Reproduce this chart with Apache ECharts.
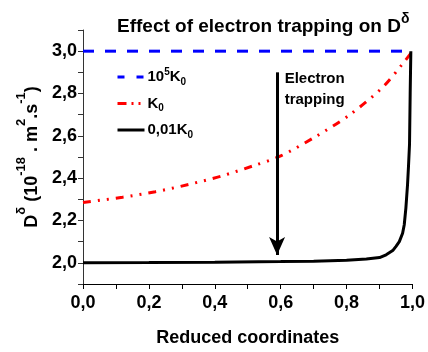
<!DOCTYPE html>
<html>
<head>
<meta charset="utf-8">
<script src="https://cdn.jsdelivr.net/npm/echarts@6/dist/echarts.min.js"></script>
<style>html,body{margin:0;padding:0;background:#fff;}#c{width:428px;height:352px;}</style>
</head>
<body>
<div id="c"></div>
<script>
// Data
const seriesNames = ['1e5K0', 'K0', '0.01K0'];
const xHigh = [0, 1];
const yHigh = [3.0, 3.0];
const xK0 = [0, 0.12, 0.22, 0.32, 0.42, 0.52, 0.60, 0.71, 0.81, 0.91, 0.97, 1.0];
const yK0 = [2.285, 2.31, 2.336, 2.37, 2.41, 2.46, 2.505, 2.60, 2.70, 2.83, 2.94, 3.0];
const xLow = [0, 0.2, 0.4, 0.6, 0.7, 0.8, 0.86, 0.9, 0.92, 0.94, 0.95, 0.96, 0.97, 0.975, 0.98, 0.985, 0.988, 0.991, 0.993, 0.995];
const yLow = [2.0, 2.001, 2.003, 2.006, 2.008, 2.012, 2.018, 2.025, 2.038, 2.058, 2.078, 2.1, 2.14, 2.18, 2.26, 2.37, 2.46, 2.56, 2.8, 3.0];
const arrowX = 0.589, arrowTop = 2.90, arrowTip = 2.037;
const noteX = 0.612, noteY = 2.82;

const FONT = '"Liberation Sans", Arial, sans-serif';
const zip = (xs, ys) => xs.map((x, i) => [x, ys[i]]);
const fmt = v => {
  const r = Math.round(v * 10);
  return r % 2 === 0 ? (r / 10).toFixed(1).replace('.', ',') : '';
};

const chart = echarts.init(document.getElementById('c'), null, {renderer: 'canvas'});
chart.setOption({
  animation: false,
  backgroundColor: '#fff',
  title: {
    text: '{t|Effect of electron trapping on D}{s|δ}',
    left: 112, top: 7,
    textStyle: {
      rich: {
        t: {fontFamily: FONT, fontWeight: 'bold', fontSize: 19, color: '#000', lineHeight: 24, verticalAlign: 'bottom'},
        s: {fontFamily: FONT, fontWeight: 'bold', fontSize: 14, color: '#000', verticalAlign: 'top', lineHeight: 14}
      }
    }
  },
  legend: {
    orient: 'vertical', left: 111, top: 62,
    itemWidth: 27, itemHeight: 14, itemGap: 9,
    itemStyle: {opacity: 0},
    data: [
      {name: seriesNames[0], lineStyle: {type: [7, 12], width: 3}},
      {name: seriesNames[1], lineStyle: {type: [9, 5, 2, 5, 2, 5], width: 3}},
      {name: seriesNames[2], lineStyle: {type: 'solid', width: 3}}
    ],
    formatter: n => n === '1e5K0' ? '{a|10}{p|5}{a|K}{b|0}' : (n === 'K0' ? '{a|K}{b|0}' : '{a|0,01K}{b|0}'),
    textStyle: {
      padding: [0, 0, 0, -2],
      rich: {
        a: {fontFamily: FONT, fontWeight: 'bold', fontSize: 15, color: '#000', height: 20, verticalAlign: 'middle'},
        p: {fontFamily: FONT, fontWeight: 'bold', fontSize: 10, color: '#000', verticalAlign: 'top'},
        b: {fontFamily: FONT, fontWeight: 'bold', fontSize: 10, color: '#000', verticalAlign: 'bottom'}
      }
    }
  },
  grid: {left: 83, right: 12, top: 30, bottom: 65, containLabel: false},
  xAxis: {
    type: 'value', min: 0, max: 1, interval: 0.1,
    name: 'Reduced coordinates', nameLocation: 'middle', nameGap: 45,
    nameTextStyle: {fontFamily: FONT, fontWeight: 'bold', fontSize: 18, color: '#000'},
    axisLine: {show: true, onZero: false, lineStyle: {color: '#000', width: 1}},
    axisTick: {show: true, inside: false, length: 5, lineStyle: {color: '#000'}},
    axisLabel: {formatter: fmt, margin: 10, fontFamily: FONT, fontWeight: 'bold', fontSize: 18, color: '#000'},
    splitLine: {show: false}
  },
  yAxis: {
    type: 'value', min: 1.9, max: 3.1, interval: 0.1,
    name: '{m|D}{s|δ}{m| (10}{s|-18}{m| . m}{s|2}{m|.s}{s|-1}{m|)}',
    nameLocation: 'middle', nameRotate: 90, nameGap: 42,
    nameTextStyle: {
      rich: {
        m: {fontFamily: FONT, fontWeight: 'bold', fontSize: 18, color: '#000', lineHeight: 26, verticalAlign: 'bottom'},
        s: {fontFamily: FONT, fontWeight: 'bold', fontSize: 13, color: '#000', verticalAlign: 'top', lineHeight: 13}
      }
    },
    axisLine: {show: true, onZero: false, lineStyle: {color: '#333', width: 1}},
    axisTick: {show: true, inside: false, length: 5, lineStyle: {color: '#333'}},
    axisLabel: {formatter: fmt, margin: 6, fontFamily: FONT, fontWeight: 'bold', fontSize: 18, color: '#000'},
    splitLine: {show: false}
  },
  series: [
    {
      name: seriesNames[0], type: 'line', data: zip(xHigh, yHigh), showSymbol: false, symbol: 'none',
      lineStyle: {color: '#0000ff', width: 3, type: [11, 11]}, itemStyle: {color: '#0000ff'}
    },
    {
      name: seriesNames[1], type: 'line', data: zip(xK0, yK0), showSymbol: false, symbol: 'none', smooth: 0.3,
      lineStyle: {color: '#ff0000', width: 3, type: [8, 7, 2, 7, 2, 7]}, itemStyle: {color: '#ff0000'}
    },
    {
      name: seriesNames[2], type: 'line', data: zip(xLow, yLow), showSymbol: false, symbol: 'none',
      lineStyle: {color: '#000', width: 3, type: 'solid'}, itemStyle: {color: '#000'},
      markLine: {
        silent: true, symbol: ['none', 'arrow'], symbolSize: [12, 18],
        lineStyle: {color: '#000', width: 3, type: 'solid'},
        label: {show: false},
        data: [[{coord: [arrowX, arrowTop]}, {coord: [arrowX, arrowTip]}]]
      },
      markPoint: {
        silent: true, symbol: 'circle', symbolSize: 0,
        label: {
          show: true, position: 'right', distance: 0, formatter: 'Electron\ntrapping',
          fontFamily: FONT, fontWeight: 'bold', fontSize: 15, color: '#000', lineHeight: 21, align: 'left'
        },
        data: [{coord: [noteX, noteY]}]
      }
    }
  ]
});
</script>
</body>
</html>
